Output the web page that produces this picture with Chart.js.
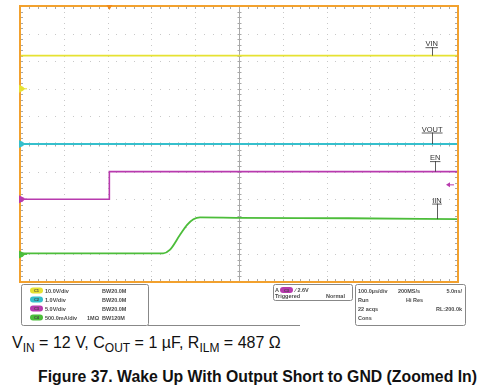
<!DOCTYPE html>
<html>
<head>
<meta charset="utf-8">
<script src="https://cdn.jsdelivr.net/npm/chart.js@4.4.1/dist/chart.umd.min.js"></script>
<style>
  body { margin: 0; background: #fff; width: 482px; height: 392px; overflow: hidden; position: relative; font-family: "Liberation Sans", Arial, sans-serif; }
  #scope { position: absolute; left: 0; top: 0; }
  .cap { position: absolute; left: 12px; top: 335px; font-size: 16px; line-height: 16px; color: #111; white-space: nowrap; }
  .cap sub { font-size: 12px; vertical-align: -4px; line-height: 0; }
  .title { position: absolute; right: 5px; top: 369px; font-size: 15.8px; line-height: 16px; font-weight: bold; color: #111; white-space: nowrap; }
</style>
</head>
<body>
<canvas id="scope" width="482" height="330"></canvas>
<div class="cap">V<sub>IN</sub> = 12 V, C<sub>OUT</sub> = 1 µF, R<sub>ILM</sub> = 487 Ω</div>
<div class="title">Figure 37. Wake Up With Output Short to GND (Zoomed In)</div>
<script>
// time in µs from the left edge of the screen (100 µs/div)
const vinTime = [0, 1000];
const vinVolts = [12, 12];
const voutTime = [0, 1000];
const voutVolts = [0, 0];
const enTime = [0, 204, 204, 1000];
const enVolts = [0, 0, 5, 5];
const iinTime = [0, 327, 342, 365, 381, 396, 411, 500, 750, 1000];
const iinAmps = [0.02, 0.02, 0.08, 0.35, 0.53, 0.635, 0.67, 0.663, 0.655, 0.64];

// scope settings: units per division and ground position (div from bottom)
const names = ['VIN', 'VOUT', 'EN', 'IIN'];
const perDiv = [10, 1, 5, 0.5];
const ground = [7, 5, 3, 1];
const colors = ['#e6e232', '#35bfcc', '#b83aae', '#4cbd3a'];
const triggerTime = 204;
const triggerLevel = 2.6;

function trace(t, v, ch) {
  return t.map((x, i) => ({ x: x, y: ground[ch] + v[i] / perDiv[ch] }));
}

const ctx = document.getElementById('scope');

const graticule = {
  id: 'graticule',
  beforeDatasetsDraw(chart) {
    const c = chart.ctx, a = chart.chartArea;
    const xs = chart.scales.x, ys = chart.scales.y;
    c.save();
    // dotted grid
    c.fillStyle = '#c8c8c8';
    for (let d = 1; d < 10; d++) {
      if (d === 5) continue;
      const px = Math.round(xs.getPixelForValue(d * 100));
      for (let m = 0; m <= 50; m++) {
        c.fillRect(px, Math.round(ys.getPixelForValue(m / 5)), 1, 1);
      }
      const py = Math.round(ys.getPixelForValue(d));
      for (let m = 0; m <= 50; m++) {
        c.fillRect(Math.round(xs.getPixelForValue(m * 20)), py, 1, 1);
      }
    }
    // center cross
    c.strokeStyle = '#a8a8a8';
    c.lineWidth = 1;
    const cx = Math.round(xs.getPixelForValue(500)) + 0.5;
    const cy = Math.round(ys.getPixelForValue(5)) + 0.5;
    c.beginPath();
    c.moveTo(cx, a.top); c.lineTo(cx, a.bottom);
    c.moveTo(a.left, cy); c.lineTo(a.right, cy);
    for (let m = 0; m <= 50; m++) {
      const ty = Math.round(ys.getPixelForValue(m / 5)) + 0.5;
      c.moveTo(cx - 2, ty); c.lineTo(cx + 2, ty);
      c.moveTo(a.left, ty); c.lineTo(a.left + 3, ty);
      c.moveTo(a.right, ty); c.lineTo(a.right - 3, ty);
      const tx = Math.round(xs.getPixelForValue(m * 20)) + 0.5;
      c.moveTo(tx, cy - 2); c.lineTo(tx, cy + 2);
      c.moveTo(tx, a.top); c.lineTo(tx, a.top + 3);
      c.moveTo(tx, a.bottom); c.lineTo(tx, a.bottom - 3);
    }
    c.stroke();
    c.restore();
  },
  afterDatasetsDraw(chart) {
    const c = chart.ctx, a = chart.chartArea;
    const xs = chart.scales.x, ys = chart.scales.y;
    c.save();
    // frame
    c.strokeStyle = '#f2a12e';
    c.lineWidth = 2;
    c.strokeRect(a.left, a.top, a.right - a.left, a.bottom - a.top);
    // ground markers
    names.forEach((n, i) => {
      const y = ys.getPixelForValue(ground[i]);
      c.fillStyle = colors[i];
      c.beginPath();
      c.moveTo(a.left - 1, y - 4);
      c.lineTo(a.left + 3, y - 2);
      c.lineTo(a.left + 5, y);
      c.lineTo(a.left + 3, y + 2);
      c.lineTo(a.left - 1, y + 4);
      c.closePath();
      c.fill();
      c.fillRect(a.left + 4, y - 0.5, 3, 1);
    });
    // trigger position
    const tx = xs.getPixelForValue(triggerTime);
    c.fillStyle = '#f08a1c';
    c.beginPath();
    c.moveTo(tx - 3, a.top - 1); c.lineTo(tx + 3, a.top - 1); c.lineTo(tx, a.top + 4);
    c.closePath(); c.fill();
    // trigger level
    const ly = ys.getPixelForValue(ground[2] + triggerLevel / perDiv[2]);
    const lx = a.right - 8;
    c.fillStyle = colors[2];
    c.beginPath();
    c.moveTo(lx - 4, ly); c.lineTo(lx, ly - 2.5); c.lineTo(lx, ly + 2.5);
    c.closePath(); c.fill();
    c.fillRect(lx, ly - 0.5, 4, 1);
    // trace labels
    const tags = [
      { t: 940, up: 8.5 }, { t: 941, up: 11.5 }, { t: 948, up: 10.5 }, { t: 952, up: 15.5 }
    ];
    const level = [vinVolts[1], voutVolts[1], enVolts[3], iinAmps[iinAmps.length - 1]];
    c.font = '7.5px "Liberation Sans", Arial, sans-serif';
    c.fillStyle = '#333';
    c.strokeStyle = '#333';
    c.lineWidth = 0.8;
    c.textAlign = 'center';
    c.textBaseline = 'alphabetic';
    names.forEach((n, i) => {
      const x = xs.getPixelForValue(tags[i].t);
      const yTrace = ys.getPixelForValue(ground[i] + level[i] / perDiv[i]);
      const base = yTrace - tags[i].up;
      c.fillText(n, x, base - 1);
      const w = c.measureText(n).width;
      c.beginPath();
      c.moveTo(x - w / 2, base + 0.5); c.lineTo(x + w / 2, base + 0.5);
      c.moveTo(Math.round(x) + 0.5, base); c.lineTo(Math.round(x) + 0.5, yTrace);
      c.stroke();
    });
    c.restore();
  },
  afterDraw(chart) {
    const c = chart.ctx;
    c.save();
    c.strokeStyle = '#888';
    c.lineWidth = 1;
    function box(x, y, w, h) {
      c.beginPath();
      c.roundRect(x + 0.5, y + 0.5, w, h, 2);
      c.stroke();
    }
    function pill(x, y, col, txt) {
      c.fillStyle = col;
      c.beginPath();
      c.roundRect(x, y - 3, 13, 6, 3);
      c.fill();
      c.fillStyle = '#444';
      c.font = 'bold 4px Arial';
      c.textAlign = 'center';
      c.fillText(txt, x + 6.5, y + 1.5);
      c.textAlign = 'left';
    }
    box(21, 284, 127, 41);
    box(273, 284, 79, 16);
    box(355, 284, 110, 41);
    c.beginPath();
    c.moveTo(148, 325.5); c.lineTo(300, 325.5);
    c.stroke();
    c.textBaseline = 'alphabetic';
    const ink = '#4a4a4a';
    const rowsL = [
      ['10.0V/div', '', 'BW20.0M'],
      ['1.0V/div', '', 'BW20.0M'],
      ['5.0V/div', '', 'BW20.0M'],
      ['500.0mA/div', '1MΩ', 'BW120M']
    ];
    rowsL.forEach((r, i) => {
      const y = 290.5 + i * 9;
      pill(30, y, colors[i], 'C' + (i + 1));
      c.fillStyle = ink;
      c.font = 'bold 5.5px Arial';
      c.fillText(r[0], 45, y + 2);
      if (r[1]) c.fillText(r[1], 87, y + 2);
      c.fillText(r[2], 102, y + 2);
    });
    c.font = 'bold 5.5px Arial';
    c.fillStyle = ink;
    c.fillText('A', 275, 292);
    pill(280, 290, colors[2], 'C3');
    c.fillStyle = ink;
    c.font = 'bold 5.5px Arial';
    c.fillText('∕ 2.6V', 295, 292);
    c.fillText('Triggered', 275, 298);
    c.fillText('Normal', 326, 298);
    const rowsR = [
      ['100.0µs/div', '200MS/s', '5.0ns/'],
      ['Run', 'Hi Res', ''],
      ['22 acqs', '', 'RL:200.0k'],
      ['Cons', '', '']
    ];
    rowsR.forEach((r, i) => {
      const y = 292.5 + i * 9;
      c.textAlign = 'left';
      c.fillText(r[0], 358, y);
      c.fillText(r[1], i === 1 ? 406 : 398, y);
      c.textAlign = 'right';
      c.fillText(r[2], 462, y);
    });
    c.restore();
  }
};

const scope_chart = new Chart(ctx, {
  type: 'line',
  data: {
    datasets: [
      { label: names[0], data: trace(vinTime, vinVolts, 0), borderColor: colors[0], borderWidth: 1.8 },
      { label: names[1], data: trace(voutTime, voutVolts, 1), borderColor: colors[1], borderWidth: 1.8 },
      { label: names[2], data: trace(enTime, enVolts, 2), borderColor: colors[2], borderWidth: 1.6 },
      { label: names[3], data: trace(iinTime, iinAmps, 3), borderColor: colors[3], borderWidth: 1.8, cubicInterpolationMode: 'monotone' }
    ]
  },
  options: {
    responsive: false,
    animation: false,
    devicePixelRatio: 1,
    layout: { padding: { left: 20, right: 24, top: 6, bottom: 48 } },
    elements: { point: { radius: 0 }, line: { tension: 0 } },
    plugins: { legend: { display: false }, tooltip: { enabled: false } },
    scales: {
      x: { type: 'linear', min: 0, max: 1000, display: false },
      y: { min: 0, max: 10, display: false }
    }
  },
  plugins: [graticule]
});
</script>
</body>
</html>
